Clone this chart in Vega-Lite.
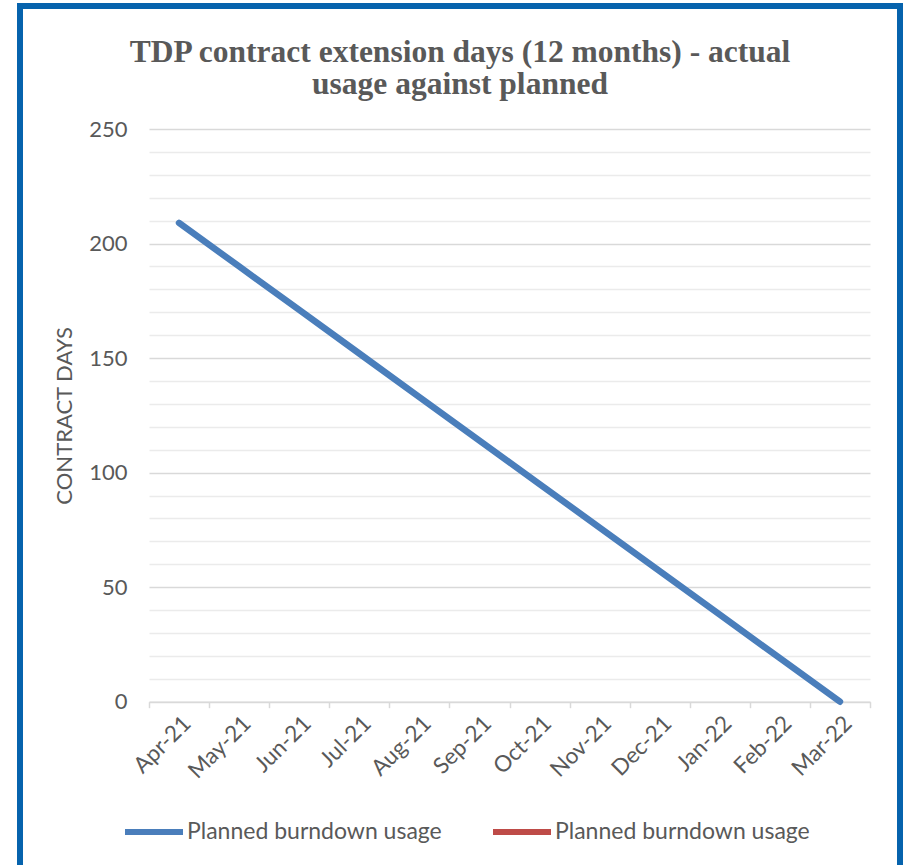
{
  "$schema": "https://vega.github.io/schema/vega-lite/v6.json",
  "width": 880,
  "height": 864,
  "autosize": {"type": "none"},
  "padding": {"left": 20, "top": 6, "right": 6, "bottom": -5},
  "background": "white",
  "config": {
    "view": {"stroke": "#0663AD", "strokeWidth": 6, "fill": "white"},
    "font": "Lato"
  },
  "title": {
    "text": ["TDP contract extension days (12 months) - actual", "usage against planned"],
    "font": "Liberation Serif",
    "fontSize": 31.5,
    "fontWeight": "bold",
    "color": "#595959",
    "anchor": "middle",
    "frame": "group",
    "offset": -94,
    "lineHeight": 32
  },
  "data": {
    "values": [
      {"month": "Apr-21", "days": 209, "series": "Planned burndown usage"},
      {"month": "May-21", "days": 190, "series": "Planned burndown usage"},
      {"month": "Jun-21", "days": 171, "series": "Planned burndown usage"},
      {"month": "Jul-21", "days": 152, "series": "Planned burndown usage"},
      {"month": "Aug-21", "days": 133, "series": "Planned burndown usage"},
      {"month": "Sep-21", "days": 114, "series": "Planned burndown usage"},
      {"month": "Oct-21", "days": 95, "series": "Planned burndown usage"},
      {"month": "Nov-21", "days": 76, "series": "Planned burndown usage"},
      {"month": "Dec-21", "days": 57, "series": "Planned burndown usage"},
      {"month": "Jan-22", "days": 38, "series": "Planned burndown usage"},
      {"month": "Feb-22", "days": 19, "series": "Planned burndown usage"},
      {"month": "Mar-22", "days": 0, "series": "Planned burndown usage"}
    ]
  },
  "mark": {"type": "line", "strokeWidth": 6.5, "strokeCap": "round", "strokeJoin": "round"},
  "encoding": {
    "x": {
      "field": "month",
      "type": "ordinal",
      "sort": null,
      "bandPosition": 0.5,
      "scale": {"type": "band", "range": [129, 850], "paddingInner": 0, "paddingOuter": 0},
      "axis": {
        "title": null,
        "labelAngle": -45,
        "labelFontSize": 22.5,
        "labelColor": "#595959",
        "labelPadding": 4,
        "domainColor": "#d9d9d9",
        "domainWidth": 1.5,
        "tickColor": "#d9d9d9",
        "tickWidth": 1.5,
        "tickSize": 6,
        "tickBand": "extent",
        "grid": false,
        "offset": -168.3
      }
    },
    "y": {
      "field": "days",
      "type": "quantitative",
      "scale": {"domain": [0, 250], "range": [695.7, 123], "nice": false},
      "axis": {
        "title": "CONTRACT DAYS",
        "titleFont": "Lato",
        "titleFontSize": 22,
        "titleFontWeight": "normal",
        "titleColor": "#595959",
        "titlePadding": 12,
        "values": [0, 10, 20, 30, 40, 50, 60, 70, 80, 90, 100, 110, 120, 130, 140, 150, 160, 170, 180, 190, 200, 210, 220, 230, 240, 250],
        "labelExpr": "datum.value % 50 === 0 ? datum.label : ''",
        "labelFontSize": 22,
        "labelColor": "#595959",
        "labelPadding": 22,
        "domain": false,
        "ticks": false,
        "grid": true,
        "gridColor": {"condition": {"test": "datum.value % 50 === 0", "value": "#d9d9d9"}, "value": "#ebebeb"},
        "gridWidth": 1.5,
        "offset": -129
      }
    },
    "color": {
      "field": "series",
      "type": "nominal",
      "scale": {
        "domain": ["Planned burndown usage", "Planned burndown usage (2)"],
        "range": ["#4A7EBB", "#BE4B48"]
      },
      "legend": {
        "title": null,
        "orient": "none",
        "legendX": 102,
        "legendY": 794,
        "direction": "horizontal",
        "columns": 2,
        "symbolType": "stroke",
        "symbolSize": 3364,
        "symbolStrokeWidth": 6,
        "labelFontSize": 23,
        "labelColor": "#595959",
        "labelOffset": 1,
        "labelLimit": 0,
        "columnPadding": 39,
        "labelExpr": "'Planned burndown usage'"
      }
    }
  }
}
